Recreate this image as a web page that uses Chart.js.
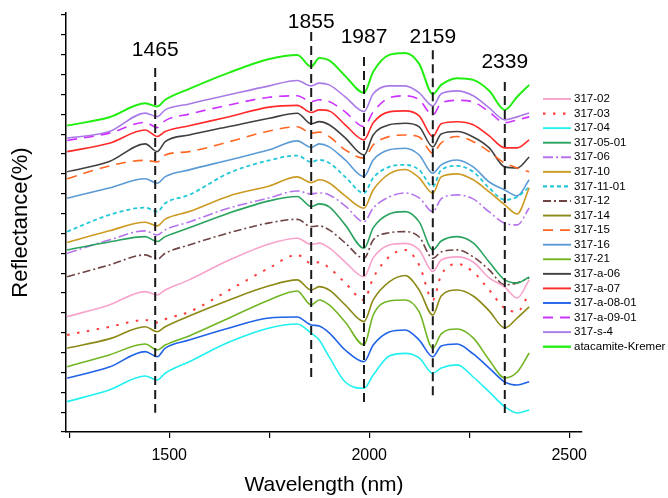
<!DOCTYPE html>
<html lang="en">
<head>
    <meta charset="UTF-8">
    <title>Reflectance spectra</title>
    <style>
        html, body { margin: 0; padding: 0; background: #fff; }
        #wrap { width: 668px; height: 498px; }
    </style>
    <script src="https://cdn.jsdelivr.net/npm/chart.js"></script>
</head>
<body>
<div id="wrap"><canvas id="spectra" width="668" height="498"></canvas></div>
<script>
    // wavelength (nm) of every sampled point
    const wavelengths = [1245, 1350, 1440, 1470, 1490, 1550, 1650, 1750, 1820, 1855, 1875, 1900, 1940, 1987, 2010, 2050, 2090, 2125, 2159, 2180, 2220, 2260, 2300, 2339, 2370, 2400];

    // x axis ticks (labels only on the 500s)
    const xTicks = [1250, 1500, 1750, 2000, 2250, 2500];

    // reflectance, stacked with offsets (one tick = one unit)
    const r317_02     = [5.81, 6.40, 7.07, 6.90, 7.15, 7.66, 8.66, 9.47, 9.76, 9.45, 9.51, 9.27, 8.56, 7.82, 8.77, 9.42, 9.50, 9.17, 8.08, 8.66, 8.82, 8.56, 7.76, 7.30, 6.75, 7.66];
    const r317_03     = [4.89, 5.29, 5.64, 5.51, 5.68, 6.05, 7.15, 8.26, 8.92, 8.50, 8.55, 8.26, 7.51, 6.65, 7.76, 8.82, 9.17, 8.41, 6.65, 7.91, 8.46, 8.06, 7.15, 6.23, 6.06, 7.00];
    const r317_04     = [1.53, 2.12, 2.82, 2.62, 2.96, 3.54, 4.53, 5.24, 5.44, 4.97, 4.63, 3.78, 2.52, 2.20, 2.87, 3.83, 3.96, 3.73, 2.96, 3.22, 3.38, 2.77, 2.02, 1.27, 0.96, 1.11];
    const r317_05_01  = [9.17, 9.57, 9.84, 9.59, 9.84, 10.28, 11.03, 11.64, 11.86, 11.35, 11.49, 11.34, 10.43, 9.25, 10.28, 10.98, 11.10, 10.58, 9.17, 9.62, 9.84, 9.52, 8.56, 7.66, 7.51, 7.81];
    const r317_06     = [9.00, 9.67, 10.13, 9.92, 10.18, 10.58, 11.28, 11.79, 12.14, 11.99, 12.04, 11.94, 11.39, 10.59, 11.28, 11.84, 12.04, 11.79, 11.10, 11.74, 11.94, 11.74, 11.08, 10.51, 10.43, 11.28];
    const r317_10     = [9.54, 10.13, 10.56, 10.38, 10.72, 11.10, 11.89, 12.39, 12.85, 12.56, 12.70, 12.54, 11.89, 11.27, 12.19, 13.00, 13.22, 12.80, 12.03, 12.85, 13.00, 12.70, 12.09, 11.44, 10.98, 12.29];
    const r317_11_01  = [10.09, 10.93, 11.30, 11.10, 11.52, 11.94, 13.05, 13.68, 13.92, 13.60, 13.70, 13.55, 12.85, 12.03, 12.80, 13.35, 13.45, 13.20, 12.36, 13.20, 13.40, 13.10, 12.29, 11.69, 11.84, 12.34];
    const r317_12     = [7.82, 8.41, 8.92, 8.70, 9.00, 9.42, 10.03, 10.53, 10.71, 10.34, 10.38, 10.18, 9.52, 8.75, 9.67, 10.03, 10.09, 9.82, 8.75, 9.07, 9.17, 8.82, 8.16, 7.41, 7.51, 7.76];
    const r317_14     = [4.22, 4.69, 5.30, 5.05, 5.30, 5.84, 6.65, 7.36, 7.66, 7.15, 7.32, 7.15, 6.40, 5.56, 6.65, 7.56, 7.88, 7.15, 5.89, 6.85, 7.15, 6.85, 6.10, 5.24, 5.74, 6.30];
    const r317_15     = [12.75, 13.40, 13.68, 13.60, 13.95, 14.12, 14.62, 15.16, 15.37, 15.05, 15.10, 14.88, 14.21, 13.79, 14.46, 14.88, 14.96, 14.86, 14.04, 14.56, 14.88, 14.62, 14.12, 13.54, 13.30, 13.10];
    const r317_16     = [11.77, 12.29, 12.75, 12.53, 12.86, 13.20, 13.70, 14.21, 14.66, 14.33, 14.51, 14.36, 13.70, 12.86, 13.70, 14.21, 14.29, 13.95, 13.03, 13.45, 13.70, 13.35, 12.59, 12.19, 11.89, 12.70];
    const r317_21     = [3.29, 3.88, 4.43, 4.13, 4.38, 4.84, 5.74, 6.65, 7.10, 6.40, 6.65, 6.40, 5.54, 4.38, 5.89, 6.60, 6.65, 6.05, 4.22, 4.94, 5.19, 4.74, 3.63, 2.72, 3.02, 3.98];
    const r317_a_06   = [13.11, 13.62, 14.51, 14.12, 14.62, 14.96, 15.38, 15.80, 16.05, 15.52, 15.63, 15.47, 14.81, 13.95, 14.96, 15.47, 15.55, 15.37, 14.36, 15.01, 15.13, 14.86, 14.31, 13.35, 13.30, 13.85];
    const r317_a_07   = [14.12, 14.54, 15.21, 14.88, 15.13, 15.42, 15.88, 16.36, 16.45, 16.09, 16.22, 16.17, 15.47, 14.71, 15.57, 16.12, 16.17, 15.92, 14.88, 15.52, 15.62, 15.47, 14.91, 14.31, 14.31, 14.71];
    const r317_a_08_01 = [2.71, 3.27, 4.05, 3.79, 4.22, 4.63, 5.24, 5.74, 5.79, 5.39, 5.34, 4.99, 4.13, 3.54, 4.38, 5.04, 5.14, 4.63, 3.79, 4.33, 4.43, 3.93, 3.22, 2.52, 2.37, 2.53];
    const r317_a_09_01 = [14.68, 15.05, 15.59, 15.33, 15.68, 16.01, 16.47, 16.86, 16.93, 16.64, 16.73, 16.64, 16.12, 15.38, 16.12, 16.83, 16.93, 16.73, 15.97, 16.57, 16.70, 16.62, 16.12, 15.57, 15.72, 15.87];
    const r317_s_4    = [14.80, 15.13, 16.06, 15.88, 16.22, 16.52, 16.98, 17.43, 17.70, 17.43, 17.57, 17.48, 16.88, 16.14, 17.03, 17.43, 17.43, 17.08, 16.42, 17.03, 17.18, 16.93, 16.32, 15.72, 15.87, 16.07];
    const atacamite   = [15.43, 15.85, 16.56, 16.39, 16.73, 17.28, 18.10, 18.78, 18.99, 18.40, 18.83, 18.71, 17.93, 17.08, 18.14, 18.99, 19.09, 18.54, 17.01, 17.48, 17.82, 17.73, 17.18, 16.22, 16.88, 17.48];

    // absorption features marked with dashed lines
    const markerNm     = [1465, 1855, 1987, 2159, 2339];
    const markerTop    = [18.33, 20.14, 18.88, 19.23, 17.62];
    const markerBottom = [0.97, 2.53, 1.36, 1.78, 0.86];
    const markerLabelY = [19.23, 20.64, 19.89, 19.89, 18.63];

    const FONT = 'Arial, "Liberation Sans", sans-serif';

    function series(label, values, color, dash, width) {
        return {
            label: label,
            data: wavelengths.map((w, i) => ({ x: w, y: values[i] })),
            borderColor: color,
            borderDash: dash || [],
            borderWidth: width || 1.6,
            cubicInterpolationMode: 'monotone',
            pointRadius: 0,
            fill: false
        };
    }

    const datasets = [
        series('317-02', r317_02, '#f7a3cb'),
        series('317-03', r317_03, '#ff3b3b', [2.5, 7.5], 2),
        series('317-04', r317_04, '#22f0f0'),
        series('317-05-01', r317_05_01, '#2aa35f'),
        series('317-06', r317_06, '#b574ec', [10, 3, 2, 3]),
        series('317-10', r317_10, '#cc9a22'),
        series('317-11-01', r317_11_01, '#22c8d6', [4, 3], 1.8),
        series('317-12', r317_12, '#6e4343', [8, 3, 2, 3]),
        series('317-14', r317_14, '#8c8a16'),
        series('317-15', r317_15, '#ff6622', [10, 7]),
        series('317-16', r317_16, '#5b9ad5'),
        series('317-21', r317_21, '#72b524'),
        series('317-a-06', r317_a_06, '#404040'),
        series('317-a-07', r317_a_07, '#ff2a2a'),
        series('317-a-08-01', r317_a_08_01, '#1f62e6'),
        series('317-a-09-01', r317_a_09_01, '#cc33ff', [10, 7]),
        series('317-s-4', r317_s_4, '#a97be6'),
        series('atacamite-Kremer', atacamite, '#22ee11', [], 2)
    ];

    // dashed feature lines and their wavelength labels
    const markerPlugin = {
        id: 'markers',
        afterDatasetsDraw(chart) {
            const ctx = chart.ctx;
            const xs = chart.scales.x, ys = chart.scales.y;
            ctx.save();
            markerNm.forEach((nm, i) => {
                const px = xs.getPixelForValue(nm);
                ctx.strokeStyle = '#1a1a1a';
                ctx.lineWidth = 2;
                ctx.setLineDash([9, 5]);
                ctx.beginPath();
                ctx.moveTo(px, ys.getPixelForValue(markerTop[i]));
                ctx.lineTo(px, ys.getPixelForValue(markerBottom[i]));
                ctx.stroke();
                ctx.setLineDash([]);
                ctx.fillStyle = '#000';
                ctx.font = '21px ' + FONT;
                ctx.textAlign = 'center';
                ctx.textBaseline = 'middle';
                ctx.fillText(String(nm), px, ys.getPixelForValue(markerLabelY[i]));
            });
            ctx.restore();
        }
    };

    // legend drawn beside the plot, overlapping the axis end like the original
    const legendPlugin = {
        id: 'sideLegend',
        afterDraw(chart) {
            const ctx = chart.ctx;
            const left = 543, top = 99, row = 14.57;
            ctx.save();
            chart.data.datasets.forEach((ds, i) => {
                const y = top + i * row;
                ctx.strokeStyle = ds.borderColor;
                ctx.lineWidth = ds.borderWidth + 0.3;
                ctx.setLineDash(ds.borderDash);
                ctx.beginPath();
                ctx.moveTo(left, y);
                ctx.lineTo(left + 28, y);
                ctx.stroke();
                ctx.setLineDash([]);
                ctx.fillStyle = '#000';
                ctx.font = '11.5px ' + FONT;
                ctx.textAlign = 'left';
                ctx.textBaseline = 'middle';
                ctx.fillText(ds.label, left + 31, y);
            });
            ctx.restore();
        }
    };

    new Chart(document.getElementById('spectra'), {
        type: 'line',
        data: { datasets: datasets },
        options: {
            responsive: false,
            animation: false,
            devicePixelRatio: 1,
            layout: { padding: { left: 0, top: 13, right: 86, bottom: 0 } },
            plugins: { legend: { display: false }, tooltip: { enabled: false } },
            scales: {
                x: {
                    type: 'linear',
                    min: 1242,
                    max: 2532,
                    afterFit: s => { s.height = 66; },
                    afterBuildTicks: s => { s.ticks = xTicks.map(v => ({ value: v })); },
                    border: { display: true, color: '#000', width: 1.5 },
                    grid: { drawOnChartArea: false, drawTicks: true, tickLength: 6, color: '#000', lineWidth: 1.2 },
                    ticks: {
                        autoSkip: false,
                        maxRotation: 0,
                        padding: 8,
                        color: '#000',
                        font: { family: FONT, size: 16 },
                        callback: v => (Math.round(v) % 500 === 0 ? String(Math.round(v)) : '')
                    },
                    title: {
                        display: true,
                        text: 'Wavelength (nm)',
                        color: '#000',
                        font: { family: FONT, size: 21 },
                        padding: { top: 0, bottom: 0 }
                    }
                },
                y: {
                    min: 0,
                    max: 21.1,
                    afterFit: s => { s.width = 66; },
                    border: { display: true, color: '#000', width: 1.5 },
                    grid: { drawOnChartArea: false, drawTicks: true, tickLength: 5, color: '#000', lineWidth: 1.2 },
                    ticks: { stepSize: 1, includeBounds: false, display: false },
                    title: {
                        display: true,
                        text: 'Reflectance(%)',
                        color: '#000',
                        font: { family: FONT, size: 22 },
                        padding: { top: 8, bottom: 0 }
                    }
                }
            }
        },
        plugins: [markerPlugin, legendPlugin]
    });
</script>
</body>
</html>
